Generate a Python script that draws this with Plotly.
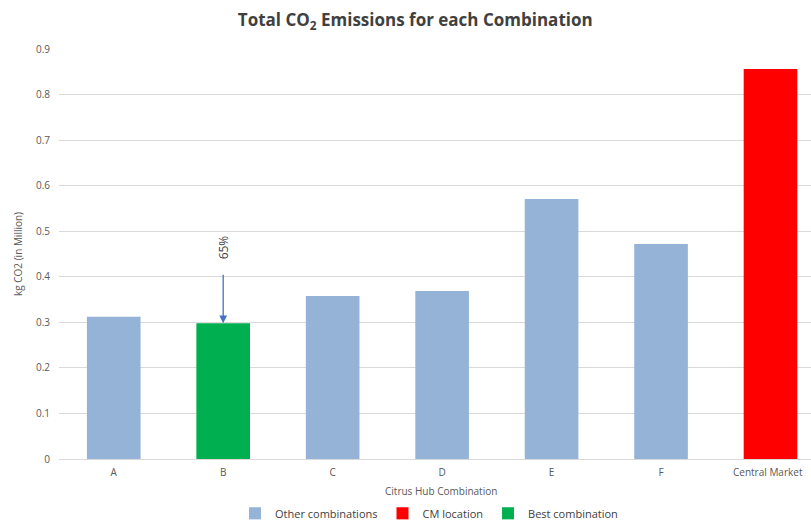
import plotly.graph_objects as go

categories = ["A", "B", "C", "D", "E", "F", "Central Market"]
values = [0.312, 0.298, 0.358, 0.369, 0.571, 0.472, 0.856]
groups = ["Other combinations", "Best combination", "Other combinations", "Other combinations",
          "Other combinations", "Other combinations", "CM location"]
legend_order = ["Other combinations", "CM location", "Best combination"]
colors = {"Other combinations": "#95B3D7", "CM location": "#FF0000", "Best combination": "#00B050"}
y_ticks = [0, 0.1, 0.2, 0.3, 0.4, 0.5, 0.6, 0.7, 0.8, 0.9]
y_tick_labels = ["0", "0.1", "0.2", "0.3", "0.4", "0.5", "0.6", "0.7", "0.8", "0.9"]
best_label = "65%"

FONT = "Open Sans"
fig = go.Figure()
for g in legend_order:
    xs = [c for c, gg in zip(categories, groups) if gg == g]
    ys = [v for v, gg in zip(values, groups) if gg == g]
    fig.add_trace(go.Bar(x=xs, y=ys, name=g, marker=dict(color=colors[g], line=dict(width=0)),
                         width=0.49))

best_idx = groups.index("Best combination")
fig.add_annotation(x=categories[best_idx], y=values[best_idx], xref="x", yref="y",
                   text="", showarrow=True, arrowhead=2, arrowsize=1.2, arrowwidth=1.3,
                   arrowcolor="#4472C4", ax=0, ay=-50, standoff=0)
fig.add_annotation(x=categories[best_idx], y=0.465, xref="x", yref="y", text=best_label,
                   showarrow=False, textangle=-90, xanchor="center", yanchor="middle",
                   font=dict(family=FONT, size=12, color="#404040"))

# last category label drawn as text slightly inside the page edge
fig.add_annotation(x=categories[-1], y=(458.7 - 472) / 409.5, xref="x", yref="paper",
                   text=categories[-1], showarrow=False, xanchor="center", yanchor="middle",
                   xshift=-3, font=dict(family=FONT, size=10, color="#595959"))

fig.add_annotation(x=(441 - 59) / 752, y=(458.7 - 491) / 409.5, xref="paper", yref="paper",
                   text="Citrus Hub Combination", showarrow=False, xanchor="center",
                   yanchor="middle", font=dict(family=FONT, size=10, color="#595959"))
fig.add_annotation(x=(18 - 59) / 752, y=0.5, xref="paper", yref="paper",
                   text="kg CO2 (in Million)", showarrow=False, textangle=-90,
                   xanchor="center", yanchor="middle",
                   font=dict(family=FONT, size=10, color="#595959"))

fig.update_layout(
    width=811, height=522,
    margin=dict(l=59, r=0, t=49, b=63, autoexpand=False),
    paper_bgcolor="white", plot_bgcolor="white",
    barmode="overlay",
    title=dict(text="Total CO<sub>2</sub> Emissions for each Combination", x=0.512, xanchor="center",
               y=1 - 20 / 522, yanchor="middle",
               font=dict(family=FONT, size=17, color="#404040", weight="bold")),
    legend=dict(orientation="h", x=(429 - 59) / 752, xanchor="center", y=(458.7 - 513) / 409.5,
                yanchor="middle", font=dict(family=FONT, size=11, color="#404040"),
                itemwidth=30, traceorder="normal", tracegroupgap=0),
    xaxis=dict(categoryorder="array", categoryarray=categories, range=[-0.5, 6.37],
               tickvals=categories[:-1], ticktext=categories[:-1],
               showgrid=False, showline=False, ticks="", ticklabelstandoff=6,
               tickfont=dict(family=FONT, size=10, color="#595959")),
    yaxis=dict(range=[0, 0.9], tickvals=y_ticks, ticktext=y_tick_labels,
               showgrid=True, gridcolor="#D9D9D9", gridwidth=1,
               zeroline=True, zerolinecolor="#D9D9D9", zerolinewidth=1,
               showline=False, ticks="", ticklabelstandoff=8,
               tickfont=dict(family=FONT, size=10, color="#595959")),
    showlegend=True,
)

fig.write_html("out.html", config={"displayModeBar": False},
               post_script="document.body.style.margin='0';")
